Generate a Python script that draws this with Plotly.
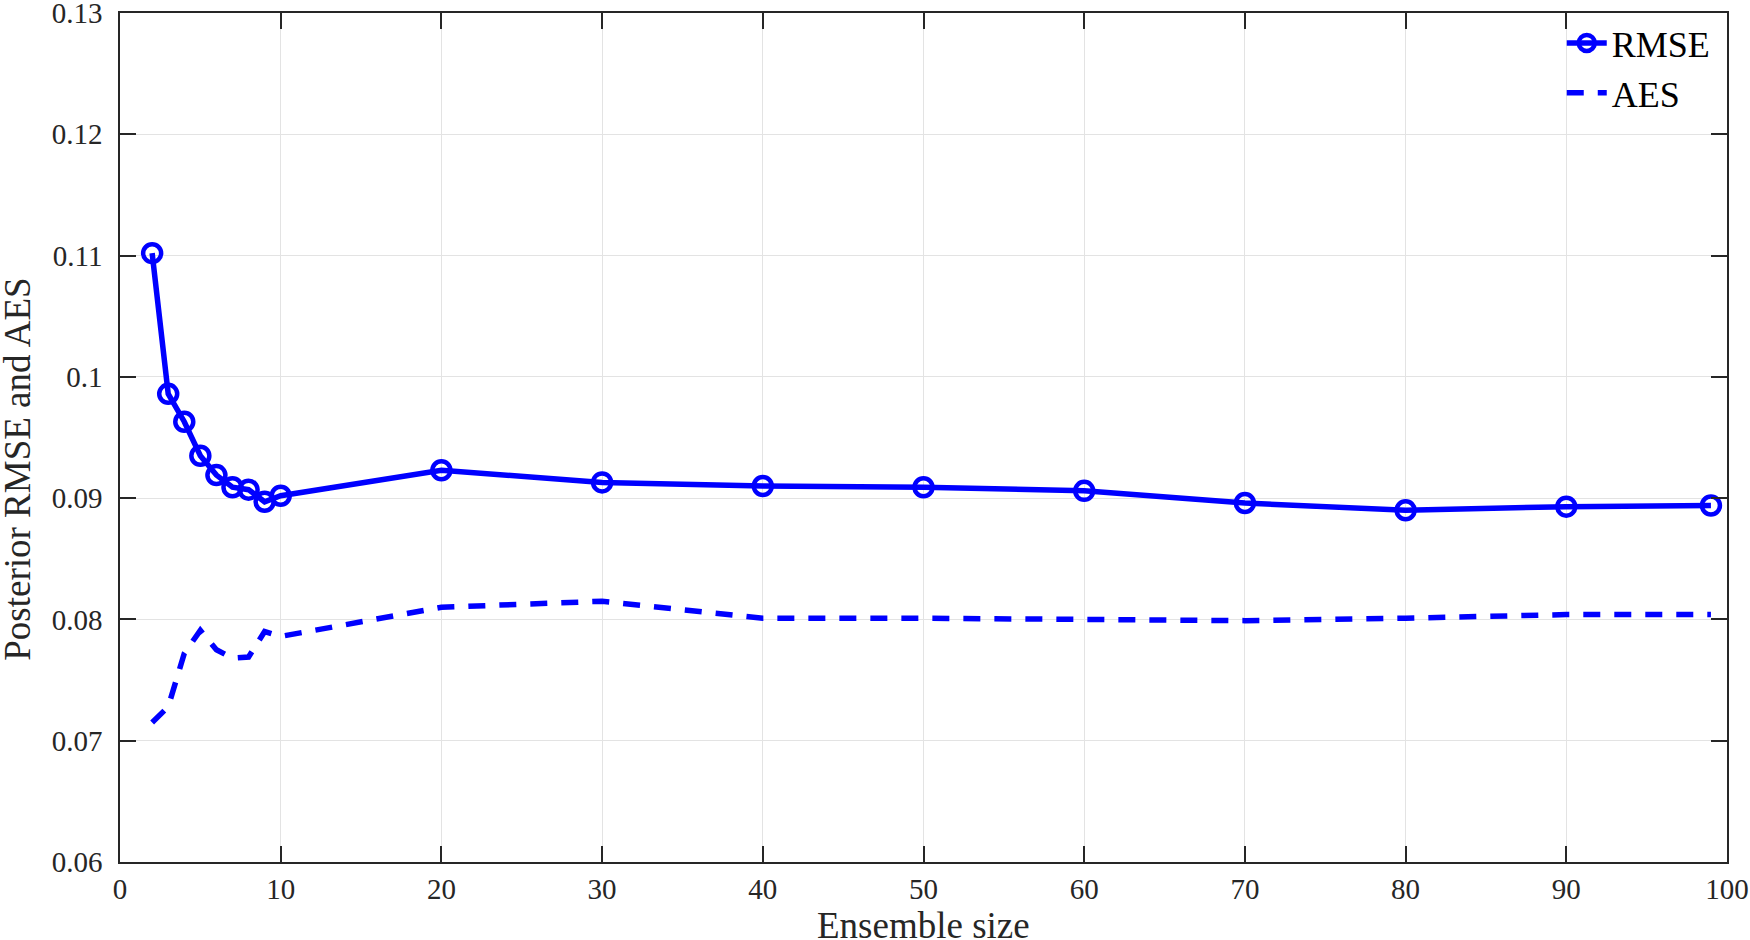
import plotly.graph_objects as go

# ensemble sizes used in the experiment
ens_size = [2, 3, 4, 5, 6, 7, 8, 9, 10, 20, 30, 40, 50, 60, 70, 80, 90, 99]

# posterior rmse and average ensemble spread
rmse = [0.1102, 0.0986, 0.0963, 0.0935, 0.0919, 0.0909, 0.0907, 0.0897, 0.0902,
        0.0923, 0.0913, 0.0910, 0.0909, 0.0906, 0.0896, 0.0890, 0.0893, 0.0894]
aes = [0.0715, 0.0728, 0.0772, 0.0791, 0.0775, 0.0768, 0.0769, 0.0790, 0.0786,
       0.0810, 0.0815, 0.0801, 0.0801, 0.0800, 0.0799, 0.0801, 0.0804, 0.0804]

x_ticks = list(range(0, 101, 10))
y_ticks = [0.06, 0.07, 0.08, 0.09, 0.1, 0.11, 0.12, 0.13]

font_name = "Liberation Serif"
blue = "#0000ff"
ink = "#262626"

fig = go.Figure()
fig.add_trace(go.Scatter(
    x=ens_size, y=rmse, name="RMSE", mode="lines+markers",
    line=dict(color=blue, width=5.5),
    marker=dict(symbol="circle-open", size=18, color=blue, line=dict(width=4.5, color=blue)),
))
fig.add_trace(go.Scatter(
    x=ens_size, y=aes, name="AES", mode="lines",
    line=dict(color=blue, width=5.5, dash="17px,14px"),
))

axis_style = dict(
    showline=True, linecolor=ink, linewidth=1.5, mirror="ticks",
    ticks="inside", ticklen=16, tickcolor=ink, tickwidth=1.5,
    showgrid=True, gridcolor="#e3e3e3", gridwidth=1, zeroline=False,
    tickfont=dict(family=font_name, size=29, color=ink),
    ticklabeloverflow="allow",
)

fig.update_xaxes(range=[0, 100], tickvals=x_ticks, ticklabelstandoff=0, **axis_style)
fig.update_yaxes(range=[0.06, 0.130001], tickvals=y_ticks, ticklabelstandoff=10, **axis_style)

# axis titles as annotations so they sit where the reference has them
fig.add_annotation(text="Ensemble size", xref="paper", yref="paper", x=0.5, y=0,
                   yanchor="middle", yshift=-63, showarrow=False,
                   font=dict(family=font_name, size=37, color=ink))
fig.add_annotation(text="Posterior RMSE and AES", xref="paper", yref="paper", x=0, y=0.462,
                   xanchor="center", xshift=-102, textangle=-90, showarrow=False,
                   font=dict(family=font_name, size=37, color=ink))

fig.update_layout(
    width=1750, height=940,
    margin=dict(l=120, r=23, t=13, b=78, autoexpand=False),
    paper_bgcolor="white", plot_bgcolor="white",
    showlegend=True,
    legend=dict(x=0.993, y=1.0, xanchor="right", yanchor="top",
                bgcolor="rgba(0,0,0,0)", font=dict(family=font_name, size=36, color="#000000"),
                itemwidth=40, tracegroupgap=0),
)

# drop the default page margin so the figure fills the window exactly
fig.write_html("out.html", config={"displayModeBar": False},
               post_script="document.body.style.margin='0';document.body.style.overflow='hidden';")
